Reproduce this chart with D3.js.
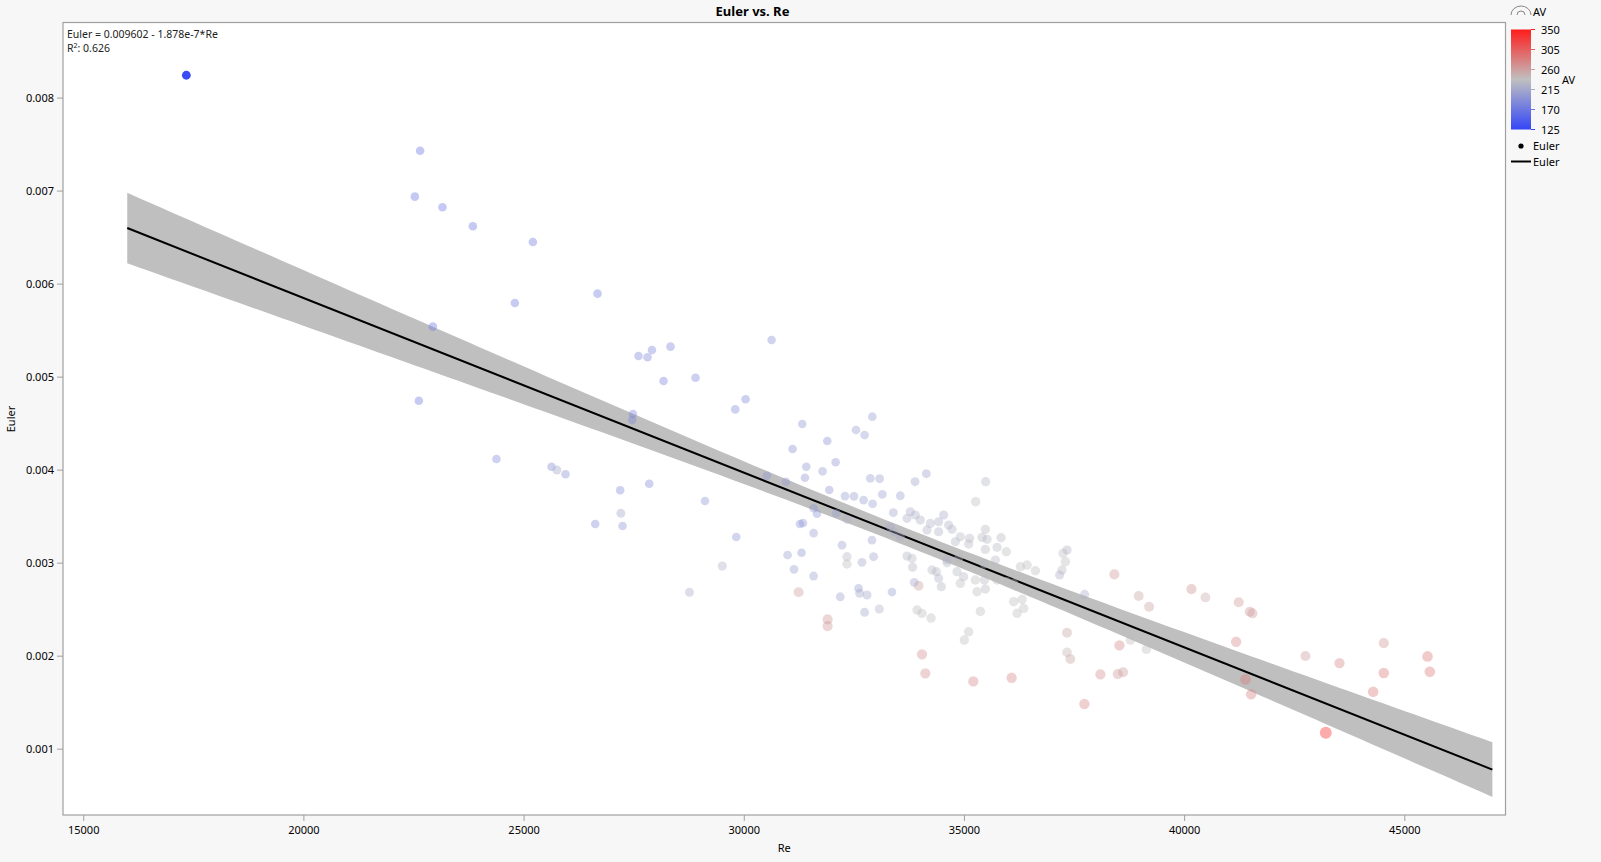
<!DOCTYPE html>
<html><head><meta charset="utf-8">
<script src="https://cdn.jsdelivr.net/npm/d3@7"></script>
<style>
body{margin:0;background:#f7f7f7;}
svg{display:block;font-family:"Noto Sans","Open Sans",sans-serif;}
</style>
</head><body>
<svg id="c" width="1601" height="862"></svg>
<script>
// ---------------- data ----------------
const title = "Euler vs. Re";
const xLabel = "Re";
const yLabel = "Euler";
const colorLabel = "AV";
const eqText = "Euler = 0.009602 - 1.878e-7*Re";
const r2Value = "0.626";
const fitIntercept = 0.009602;
const fitSlope = -1.878e-7;
const fitRange = [16000, 47000];
const selectedRow = 0;

const re = [17342,22651,22531,23158,23848,25211,26679,24802,22940,22621,
30632,27610,27915,27815,28337,28178,28905,30041,29807,27483,
27467,24384,25634,25756,25952,27194,27853,27209,26627,27247,
29119,29830,29512,31329,31109,31897,32549,32744,32919,30527,
30959,31420,31390,31790,32086,31942,32299,32503,32722,32926,
32874,31586,31663,32101,32344,31277,31345,31586,32231,32912,
30995,31313,32344,32344,32685,32948,31141,31586,33085,33146,
33555,33889,34146,35493,35266,33396,31245,32192,32608,32631,
32799,33366,32744,33078,31904,31904,34048,33935,34048,34253,
35373,35107,35009,33971,33871,33782,33896,33707,34009,34236,
34425,34539,34652,34730,34425,34161,34918,35129,34804,35107,
35486,35411,35525,35843,35486,35752,35963,33707,33820,33834,
34275,34373,34616,34616,34880,34843,34993,34425,34487,34918,
35259,35464,35714,35464,35752,35979,36129,36282,36434,36623,
35297,35486,36129,36320,36356,36207,34123,35213,36083,37250,
37341,37303,37228,37173,37742,38416,38968,37341,37341,37416,
38530,38780,38099,38492,38614,37735,40166,40484,39205,41240,
41490,41551,39143,41181,41392,41522,42755,43528,44534,44534,
44293,45527,45579,43217,28767,33329,33555,33402];

const euler = [0.008240,0.007429,0.006935,0.006821,0.006616,0.006447,0.005892,0.005792,0.005537,0.004741,
0.005394,0.005222,0.005286,0.005208,0.005322,0.004953,0.004988,0.004756,0.004648,0.004598,
0.004533,0.004114,0.004031,0.003996,0.003950,0.003778,0.003848,0.003530,0.003415,0.003394,
0.003662,0.003275,0.002963,0.004490,0.004222,0.004308,0.004426,0.004372,0.004569,0.003935,
0.003870,0.004031,0.003913,0.003982,0.004079,0.003781,0.003716,0.003713,0.003673,0.003633,
0.003906,0.003584,0.003526,0.003530,0.003466,0.003415,0.003426,0.003318,0.003189,0.003243,
0.003082,0.003107,0.003064,0.002985,0.003003,0.003064,0.002928,0.002856,0.003902,0.003734,
0.003719,0.003870,0.003956,0.003870,0.003655,0.003537,0.002681,0.002633,0.002724,0.002670,
0.002652,0.002684,0.002466,0.002501,0.002390,0.002318,0.002014,0.002490,0.002455,0.002404,
0.002476,0.002257,0.002168,0.002752,0.002788,0.003547,0.003512,0.003476,0.003458,0.003422,
0.003440,0.003512,0.003404,0.003358,0.003332,0.003350,0.003278,0.003261,0.003224,0.003200,
0.003358,0.003272,0.003251,0.003268,0.003143,0.003165,0.003117,0.003071,0.003046,0.002950,
0.002921,0.002903,0.003028,0.002999,0.003046,0.002903,0.002849,0.002832,0.002741,0.002778,
0.002813,0.002813,0.003028,0.002985,0.002813,0.002795,0.002778,0.002956,0.002974,0.002913,
0.002687,0.002716,0.002580,0.002605,0.002509,0.002455,0.001810,0.001723,0.001762,0.003100,
0.003136,0.003010,0.002921,0.002867,0.002659,0.002874,0.002641,0.002246,0.002035,0.001963,
0.002111,0.002168,0.001799,0.001802,0.001821,0.001480,0.002716,0.002626,0.002526,0.002574,
0.002473,0.002455,0.002068,0.002149,0.001745,0.001584,0.001996,0.001920,0.002135,0.001813,
0.001612,0.001992,0.001827,0.001171,0.002682,0.003386,0.003279,0.003332];

const av = [130,170,170,172,174,175,178,176,172,175,
195,185,185,186,185,183,186,188,190,185,
186,190,192,215,195,190,190,215,192,198,
198,198,225,200,195,195,205,205,203,200,
203,200,200,203,200,200,205,205,205,207,
207,200,198,205,225,198,198,205,210,210,
205,200,230,235,215,212,205,210,210,208,
210,212,210,228,238,212,260,210,205,215,
215,205,215,225,265,265,270,235,235,238,
235,240,238,255,215,220,222,222,225,225,
222,220,225,228,225,225,230,232,228,232,
232,232,230,232,232,230,235,228,230,228,
230,228,225,230,232,230,232,225,228,235,
235,232,230,230,235,235,235,235,238,238,
235,232,238,238,238,236,270,275,275,240,
225,240,232,222,220,265,255,255,245,255,
275,240,270,262,262,275,268,252,258,265,
262,262,238,275,285,280,262,275,265,285,
285,285,285,340,220,220,222,222];

const xTicks = [15000,20000,25000,30000,35000,40000,45000];
const yTicks = [0.001,0.002,0.003,0.004,0.005,0.006,0.007,0.008];
const avTicks = [125,170,215,260,305,350];
const avDomain = [125, 237.5, 350];
const avColors = ["#3446f8", "#c0c0c0", "#ff1c1c"];

// ---------------- layout ----------------
const svg = d3.select("#c");
const P = {l:63, r:1505.5, t:22.5, b:815};
const x = d3.scaleLinear().domain([14541, 47298]).range([P.l, P.r]);
const y = d3.scaleLinear().domain([0.000287, 0.008807]).range([P.b, P.t]);
const color = d3.scaleLinear().domain(avDomain).range(avColors).interpolate(d3.interpolateRgb);
const rScale = d3.scaleLinear().domain([200, 345]).range([4.3, 6]).clamp(true);
const frameColor = "#a0a0a0";

svg.append("rect").attr("x",P.l).attr("y",P.t).attr("width",P.r-P.l).attr("height",P.b-P.t)
  .attr("fill","#fff");

// ---------------- regression band ----------------
const n = re.length;
const xbar = d3.mean(re);
const Sxx = d3.sum(re, v => (v-xbar)*(v-xbar));
const sse = d3.sum(re.map((v,i) => {const e = euler[i] - (fitIntercept + fitSlope*v); return e*e;}));
const s = Math.sqrt(sse/(n-2));
const tval = 1.972;
const fit = v => fitIntercept + fitSlope*v;
const hw = v => tval*s*Math.sqrt(1/n + (v-xbar)*(v-xbar)/Sxx);
const grid = d3.range(fitRange[0], fitRange[1]+1, 250);
svg.append("path").datum(grid)
  .attr("d", d3.area().x(v=>x(v)).y0(v=>y(fit(v)-hw(v))).y1(v=>y(fit(v)+hw(v))))
  .attr("fill","#bfbfbf");
svg.append("path").datum(fitRange)
  .attr("d", d3.line().x(v=>x(v)).y(v=>y(fit(v))))
  .attr("stroke","#000").attr("stroke-width",2).attr("fill","none");

// ---------------- points ----------------
const idx = d3.range(n);
svg.append("g").selectAll("circle").data(idx).join("circle")
  .attr("cx", i => x(re[i])).attr("cy", i => y(euler[i]))
  .attr("r", i => i===selectedRow ? 4.4 : rScale(av[i]))
  .attr("fill", i => color(av[i]))
  .attr("fill-opacity", i => i===selectedRow ? 1 : 0.4);

// frame
svg.append("rect").attr("x",P.l).attr("y",P.t).attr("width",P.r-P.l).attr("height",P.b-P.t)
  .attr("fill","none").attr("stroke",frameColor).attr("stroke-width",1.2);

// ---------------- axes ----------------
const gx = svg.append("g").attr("transform",`translate(0,${P.b})`)
  .call(d3.axisBottom(x).tickValues(xTicks).tickFormat(d3.format("d")).tickSize(6).tickPadding(5));
const gy = svg.append("g").attr("transform",`translate(${P.l},0)`)
  .call(d3.axisLeft(y).tickValues(yTicks).tickFormat(d3.format(".3f")).tickSize(6).tickPadding(3));
[gx,gy].forEach(g => {
  g.select(".domain").remove();
  g.selectAll(".tick line").attr("stroke",frameColor);
  g.selectAll("text").attr("fill","#000").style("font-size","11px").style("font-family",'"Noto Sans",sans-serif');
});

svg.append("text").attr("x",752.5).attr("y",16).attr("text-anchor","middle")
  .style("font-size","13px").style("font-weight","bold").text(title);
svg.append("text").attr("x",(P.l+P.r)/2).attr("y",852).attr("text-anchor","middle")
  .style("font-size","11px").text(xLabel);
svg.append("text").attr("transform","translate(15,419) rotate(-90)").attr("text-anchor","middle")
  .style("font-size","11px").text(yLabel);

// equation
svg.append("text").attr("x",67).attr("y",38).style("font-size","10.5px").attr("fill","#222").text(eqText);
const r2 = svg.append("text").attr("x",67).attr("y",52).style("font-size","10.5px").attr("fill","#222");
r2.append("tspan").text("R");
r2.append("tspan").attr("dy",-4).style("font-size","7px").text("2");
r2.append("tspan").attr("dy",4).text(": " + r2Value);

// ---------------- legend ----------------
const lg = svg.append("g");
lg.append("path").attr("d","M1511,15 A10,9 0 0 1 1531,15").attr("fill","none").attr("stroke","#888").attr("stroke-width",1);
lg.append("path").attr("d","M1517,15 A4,4 0 0 1 1525,15").attr("fill","none").attr("stroke","#888").attr("stroke-width",1);
lg.append("text").attr("x",1533).attr("y",16).style("font-size","11px").text(colorLabel);

const cbY = d3.scaleLinear().domain([125,350]).range([129.5,29.5]);
const defs = svg.append("defs");
const grad = defs.append("linearGradient").attr("id","cb").attr("x1",0).attr("y1",1).attr("x2",0).attr("y2",0);
d3.range(0,1.0001,0.05).forEach(t => {
  const v = 125 + t*225;
  grad.append("stop").attr("offset",t).attr("stop-color",color(v));
});
lg.append("rect").attr("x",1511).attr("y",29.5).attr("width",20).attr("height",100).attr("fill","url(#cb)");
lg.selectAll(".cbt").data(avTicks).join("line")
  .attr("x1",1531).attr("x2",1535).attr("y1",d=>cbY(d)).attr("y2",d=>cbY(d))
  .attr("stroke",d=>color(d));
lg.selectAll(".cbl").data(avTicks).join("text")
  .attr("x",1541).attr("y",d=>cbY(d)+4).style("font-size","11px").text(d=>d);
lg.append("text").attr("x",1562).attr("y",84).style("font-size","11px").text(colorLabel);

lg.append("circle").attr("cx",1521).attr("cy",146).attr("r",2.6).attr("fill","#000");
lg.append("text").attr("x",1533).attr("y",150).style("font-size","11px").text(yLabel);
lg.append("line").attr("x1",1511).attr("x2",1531).attr("y1",161.5).attr("y2",161.5).attr("stroke","#000").attr("stroke-width",2);
lg.append("text").attr("x",1533).attr("y",165.5).style("font-size","11px").text(yLabel);
</script>
</body></html>
